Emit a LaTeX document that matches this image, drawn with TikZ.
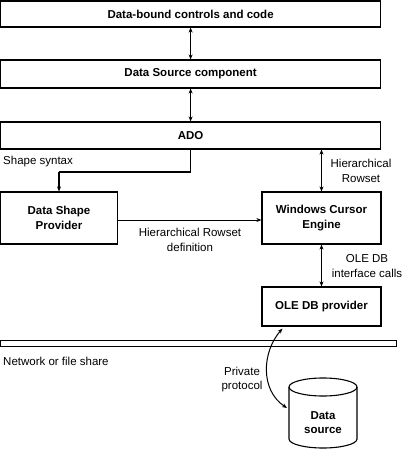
\documentclass[tikz,border=0pt]{standalone}
\usepackage{fontspec}
\setmainfont{Liberation Sans}
\usetikzlibrary{arrows.meta,calc}
\begin{document}
\begin{tikzpicture}[x=1pt,y=-1pt,
  every node/.style={font=\fontsize{11.5}{15}\selectfont, inner sep=0pt},
  box/.style={draw, line width=1.2pt, font=\fontsize{11.5}{15}\selectfont\bfseries, align=center},
  lbl/.style={align=center},
  conn/.style={line width=1.1pt, {Stealth[length=5pt,width=4pt]}-{Stealth[length=5pt,width=4pt]}},
  oneway/.style={line width=1.1pt, -{Stealth[length=5pt,width=4pt]}}]
\useasboundingbox (0,0) rectangle (404,449);
% top stack
\node[box, minimum width=380pt, minimum height=26pt] (dbc) at (190.6,14) {Data-bound controls and code};
\node[box, minimum width=380pt, minimum height=28pt] (dsc) at (190.6,74) {Data Source component};
\node[box, minimum width=380pt, minimum height=27pt] (ado) at (190.6,135.5) {ADO};
\draw[conn] (dbc) -- (dsc);
\draw[conn] (dsc) -- (ado);
% middle
\node[box, minimum width=117pt, minimum height=52pt] (dsp) at (59,218) {Data Shape\\Provider};
\node[box, minimum width=119pt, minimum height=52pt] (wce) at (321.5,218) {Windows Cursor\\Engine};
\node[box, minimum width=119pt, minimum height=39pt] (odp) at (321.5,306.5) {OLE DB provider};
\coordinate (turn1) at (ado.south |- 0,172);
\coordinate (turn2) at (dsp.north |- 0,172);
\draw[line width=1.1pt] (ado.south) -- (turn1) -- (turn2);
\draw[oneway] (turn2) -- (dsp.north);
\node[anchor=west] (ss) at (3,162) {Shape syntax};
\draw[conn] (ado.south -| wce.north) -- (wce.north);
\node[lbl] (hr) at (361,171) {Hierarchical\\Rowset};
\draw[oneway, line width=0.9pt] (dsp.east |- 0,220) -- (wce.west |- 0,220);
\node[lbl] (hrd) at (190,240) {Hierarchical Rowset\\definition};
\draw[conn] (wce.south) -- (odp.north);
\node[lbl] (odi) at (367,266) {OLE DB\\interface calls};
% network bar
\draw[line width=1pt] (0.6,340) rectangle (396,346);
\node[anchor=west] (net) at (3,361) {Network or file share};
% data source cylinder
\draw[line width=1.1pt, fill=white] (289,387) -- (289,439) arc[start angle=180, end angle=0, x radius=34, y radius=9] -- (357,387);
\draw[line width=1.1pt] (323,387) ellipse[x radius=34, y radius=9];
\node[lbl, font=\fontsize{11.5}{14}\selectfont\bfseries] (ds) at (323,423) {Data\\source};
\coordinate (pstart) at ($(odp.south west)+(21,2)$);
\coordinate (pend) at (287,408);
\draw[conn, line width=1pt] (pstart) .. controls (262,352) and (260,390) .. (pend);
\node[lbl, font=\fontsize{11.5}{14}\selectfont] (pp) at (242,380) {Private\\protocol};
\end{tikzpicture}
\end{document}
